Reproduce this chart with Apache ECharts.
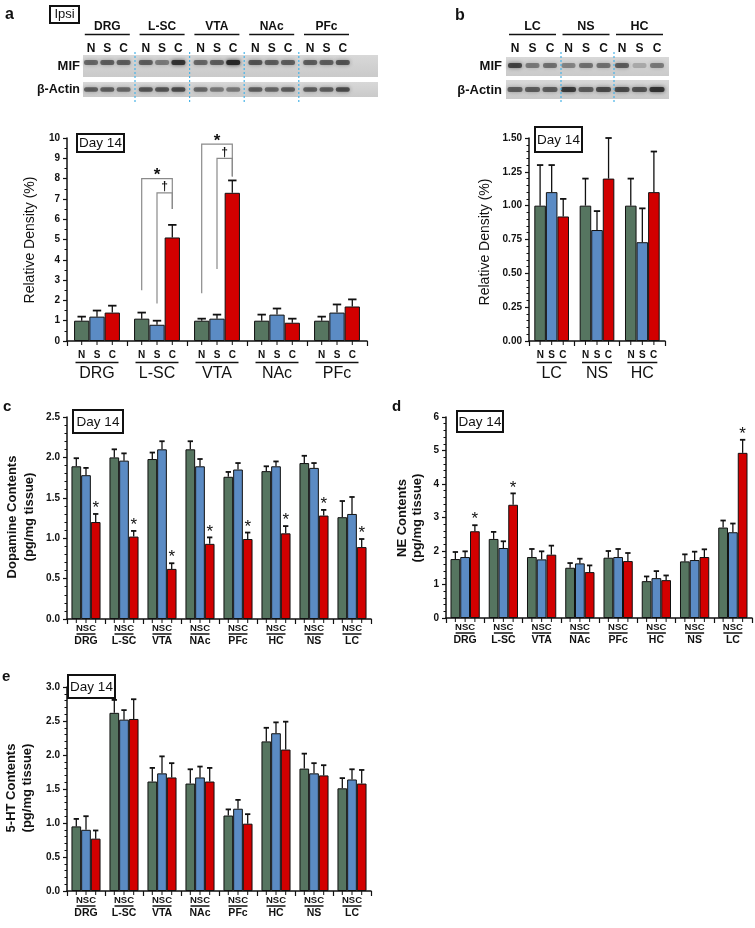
<!DOCTYPE html>
<html><head><meta charset="utf-8">
<script src="https://cdn.jsdelivr.net/npm/echarts@6.0.0/dist/echarts.min.js"></script>
<style>html,body{margin:0;padding:0;background:#fff}#c{width:755px;height:928px}</style>
</head><body><div id="c"></div><script>
// ---------- data ----------
const conds = ['N', 'S', 'C'];
const groupsA = ['DRG', 'L-SC', 'VTA', 'NAc', 'PFc'];
const groupsB = ['LC', 'NS', 'HC'];
const groupsCDE = ['DRG', 'L-SC', 'VTA', 'NAc', 'PFc', 'HC', 'NS', 'LC'];

const aN = [1.0, 1.1, 1.0, 1.0, 1.0];
const aS = [1.2, 0.8, 1.1, 1.3, 1.4];
const aC = [1.4, 5.1, 7.3, 0.9, 1.7];
const aNerr = [1.2, 1.4, 1.1, 1.3, 1.2];
const aSerr = [1.5, 1.0, 1.3, 1.6, 1.8];
const aCerr = [1.74, 5.72, 7.91, 1.1, 2.05];
// [group, fromBar, toBar, lowValue, topValue, endValue]
const bracketsA = [[1, 0, 2, 2.5, 8.0, 6.5], [1, 1, 2, 1.85, 7.3, 6.5], [2, 0, 2, 2.35, 9.7, 8.1], [2, 1, 2, 3.55, 9.0, 8.1]];
const bracketMarksA = ['*', '\u2020', '*', '\u2020'];

const bN = [1.0, 1.0, 1.0];
const bS = [1.1, 0.82, 0.73];
const bC = [0.92, 1.2, 1.1];
const bNerr = [1.3, 1.2, 1.2];
const bSerr = [1.3, 0.96, 0.98];
const bCerr = [1.05, 1.5, 1.4];

const cN = [1.89, 2.00, 1.98, 2.10, 1.76, 1.83, 1.93, 1.26];
const cS = [1.78, 1.96, 2.10, 1.89, 1.85, 1.89, 1.87, 1.30];
const cC = [1.20, 1.02, 0.62, 0.93, 0.99, 1.06, 1.28, 0.89];
const cNerr = [1.99, 2.10, 2.06, 2.20, 1.82, 1.89, 2.02, 1.46];
const cSerr = [1.87, 2.05, 2.20, 1.98, 1.93, 1.95, 1.93, 1.51];
const cCerr = [1.30, 1.09, 0.69, 1.01, 1.07, 1.15, 1.35, 0.99];
const sigC = [0, 1, 2, 3, 4, 5, 6, 7];

const dN = [1.76, 2.36, 1.82, 1.50, 1.80, 1.10, 1.69, 2.70];
const dS = [1.82, 2.09, 1.75, 1.63, 1.82, 1.19, 1.73, 2.56];
const dC = [2.59, 3.38, 1.89, 1.37, 1.70, 1.13, 1.82, 4.93];
const dNerr = [1.97, 2.57, 2.06, 1.64, 2.00, 1.24, 1.90, 2.91];
const dSerr = [1.99, 2.29, 1.99, 1.77, 2.06, 1.40, 1.98, 2.82];
const dCerr = [2.77, 3.72, 2.16, 1.57, 1.94, 1.27, 2.05, 5.32];
const sigD = [0, 1, 7];

const eN = [0.95, 2.62, 1.61, 1.58, 1.11, 2.20, 1.80, 1.51];
const eS = [0.90, 2.52, 1.73, 1.67, 1.21, 2.32, 1.73, 1.64];
const eC = [0.77, 2.53, 1.67, 1.61, 0.99, 2.08, 1.70, 1.58];
const eNerr = [1.06, 2.81, 1.81, 1.79, 1.20, 2.40, 2.02, 1.66];
const eSerr = [1.10, 2.66, 1.98, 1.83, 1.34, 2.48, 1.88, 1.79];
const eCerr = [0.89, 2.82, 1.88, 1.81, 1.13, 2.49, 1.85, 1.78];

// western blot band intensities (decorative)
const mifA = [0.55, 0.6, 0.6, 0.6, 0.45, 0.85, 0.55, 0.6, 0.95, 0.65, 0.6, 0.6, 0.6, 0.6, 0.65];
const actinA = [0.6, 0.6, 0.55, 0.65, 0.65, 0.7, 0.55, 0.45, 0.45, 0.6, 0.55, 0.6, 0.6, 0.6, 0.7];
const mifB = [0.75, 0.45, 0.5, 0.4, 0.5, 0.5, 0.6, 0.22, 0.45];
const actinB = [0.6, 0.6, 0.6, 0.8, 0.6, 0.7, 0.7, 0.65, 0.85];

// ---------- style ----------
const FONT = '"Liberation Sans", Arial, sans-serif';
const NARROW = '"Liberation Sans Narrow", "Arial Narrow", "Liberation Sans", Arial, sans-serif';
const COLORS = ['#567560', '#5b8bc4', '#d20000'];
const BAR = 0.255;
const INK = '#111';

const panels = [
  { grid: { left: 67, top: 138, width: 300, height: 203 }, groups: groupsA, means: [aN, aS, aC], errs: [aNerr, aSerr, aCerr],
    y: { min: 0, max: 10, interval: 1, minor: 2, dec: 0 }, big: true, boxW: 15.3, ulW: 43, nscSize: 10, grpSize: 16 },
  { grid: { left: 529, top: 138, width: 136, height: 203 }, groups: groupsB, means: [bN, bS, bC], errs: [bNerr, bSerr, bCerr],
    y: { min: 0, max: 1.5, interval: 0.25, minor: 5, dec: 2 }, big: true, boxW: 11.3, ulW: 30, nscSize: 10, grpSize: 16 },
  { grid: { left: 67, top: 417, width: 304, height: 202 }, groups: groupsCDE, means: [cN, cS, cC], errs: [cNerr, cSerr, cCerr],
    y: { min: 0, max: 2.5, interval: 0.5, minor: 5, dec: 1 }, big: false, boxW: 6.6, ulW: 19, nscSize: 9.5, grpSize: 10.5, sig: sigC, starOff: 9.5 },
  { grid: { left: 446, top: 417, width: 306, height: 201 }, groups: groupsCDE, means: [dN, dS, dC], errs: [dNerr, dSerr, dCerr],
    y: { min: 0, max: 6, interval: 1, minor: 5, dec: 0 }, big: false, boxW: 6.6, ulW: 19, nscSize: 9.5, grpSize: 10.5, sig: sigD, starOff: 9.5 },
  { grid: { left: 67, top: 687, width: 304, height: 204 }, groups: groupsCDE, means: [eN, eS, eC], errs: [eNerr, eSerr, eCerr],
    y: { min: 0, max: 3, interval: 0.5, minor: 5, dec: 1 }, big: false, boxW: 6.6, ulW: 19, nscSize: 9.5, grpSize: 10.5 }
];

const grids = [], xAxes = [], yAxes = [], series = [];
panels.forEach((p, gi) => {
  grids.push(Object.assign({ containLabel: false }, p.grid));
  xAxes.push({
    type: 'category', gridIndex: gi, data: p.groups,
    axisLine: { lineStyle: { color: INK, width: 1.5 } },
    axisTick: { show: true, length: 5, lineStyle: { color: INK, width: 1.2 } },
    axisLabel: {
      interval: 0, margin: p.big ? 8 : 4, color: INK,
      formatter: v => '{l|N}{l|S}{l|C}\n{u|}\n{g|' + v + '}',
      rich: {
        l: { width: p.boxW, align: 'center', fontSize: p.nscSize, fontWeight: 'bold', fontFamily: p.big ? FONT : NARROW, lineHeight: p.big ? 12 : 10, color: INK },
        u: { width: p.ulW, height: 1.5, backgroundColor: INK, lineHeight: p.big ? 3 : 2 },
        g: { fontSize: p.grpSize, fontWeight: p.big ? 'normal' : 'bold', fontFamily: NARROW, lineHeight: p.big ? 20 : 13, color: INK }
      }
    },
    splitLine: { show: false }
  });
  yAxes.push({
    type: 'value', gridIndex: gi, min: p.y.min, max: p.y.max, interval: p.y.interval,
    axisLine: { show: true, lineStyle: { color: INK, width: 1.5 } },
    axisTick: { show: true, length: 4, lineStyle: { color: INK, width: 1.2 } },
    minorTick: { show: true, splitNumber: p.y.minor, length: 2.5, lineStyle: { color: INK, width: 1 } },
    axisLabel: { margin: 7, fontSize: 10, fontWeight: 'bold', fontFamily: FONT, color: INK, formatter: v => v.toFixed(p.y.dec) },
    splitLine: { show: false }
  });
  p.means.forEach((m, k) => {
    series.push({
      type: 'bar', xAxisIndex: gi, yAxisIndex: gi, name: conds[k], data: m,
      barWidth: (BAR * 100) + '%', barGap: '0%',
      itemStyle: { color: COLORS[k], borderColor: INK, borderWidth: 1 },
      silent: true, animation: false
    });
  });
  p.means.forEach((m, k) => {
    const errs = p.errs[k];
    series.push({
      type: 'custom', xAxisIndex: gi, yAxisIndex: gi, clip: false, z: 5, silent: true, animation: false,
      data: m.map((v, i) => [i, v, errs[i]]),
      renderItem: (params, api) => {
        const i = api.value(0);
        const band = api.size([1, 0])[0];
        const bw = band * BAR;
        const c0 = api.coord([i, api.value(1)]);
        const c1 = api.coord([i, api.value(2)]);
        const base = api.coord([i, 0]);
        const x = c0[0] + (k - 1) * bw;
        const cw = bw * 0.55;
        return { type: 'group', children: [
          { type: 'line', shape: { x1: x, y1: c0[1], x2: x, y2: c1[1] }, style: { stroke: INK, lineWidth: 1.3 } },
          { type: 'line', shape: { x1: x - cw / 2, y1: c1[1], x2: x + cw / 2, y2: c1[1] }, style: { stroke: INK, lineWidth: 1.8 } },
          { type: 'line', shape: { x1: x, y1: base[1], x2: x, y2: base[1] + 4 }, style: { stroke: INK, lineWidth: 1 } }
        ] };
      }
    });
  });
  if (p.sig) {
    const errC = p.errs[2];
    series.push({
      type: 'custom', xAxisIndex: gi, yAxisIndex: gi, clip: false, z: 6, silent: true, animation: false,
      data: p.sig.map(g => [g, errC[g]]),
      renderItem: (params, api) => {
        const i = api.value(0);
        const band = api.size([1, 0])[0];
        const c = api.coord([i, api.value(1)]);
        return { type: 'text', x: c[0] + band * BAR, y: c[1] - p.starOff + 4,
          style: { text: '*', fontSize: 17, fontFamily: FONT, fill: INK, align: 'center', verticalAlign: 'middle' } };
      }
    });
  }
});

// significance brackets for panel a
series.push({
  type: 'custom', xAxisIndex: 0, yAxisIndex: 0, clip: false, z: 6, silent: true, animation: false,
  data: bracketsA,
  renderItem: (params, api) => {
    const g = api.value(0), f = api.value(1), t = api.value(2);
    const band = api.size([1, 0])[0];
    const bw = band * BAR;
    const low = api.coord([g, api.value(3)]);
    const top = api.coord([g, api.value(4)]);
    const end = api.coord([g, api.value(5)]);
    const xf = low[0] + (f - 1) * bw, xt = low[0] + (t - 1) * bw;
    const mark = bracketMarksA[params.dataIndex];
    const isStar = mark === '*';
    return { type: 'group', children: [
      { type: 'polyline', shape: { points: [[xf, low[1]], [xf, top[1]], [xt, top[1]], [xt, end[1]]] },
        style: { stroke: '#8a8a8a', lineWidth: 1.2, fill: null } },
      { type: 'text', x: (xf + xt) / 2, y: top[1] - (isStar ? 3 : 6),
        style: { text: mark, fontSize: isStar ? 17 : 12, fontWeight: 'bold', fontFamily: FONT, fill: INK, align: 'center', verticalAlign: 'middle' } }
    ] };
  }
});

// ---------- decorative graphics ----------
const G = [];
function txt(x, y, text, o) {
  o = o || {};
  G.push({ type: 'text', x: x, y: y, rotation: o.rot || 0, silent: true,
    style: { text: text, fill: INK, fontSize: o.size || 12, fontWeight: o.weight || 'normal', fontFamily: o.family || FONT,
      align: o.align || 'center', verticalAlign: o.va || 'middle', lineHeight: o.lh } });
}
function box(x, y, w, h, lw) {
  G.push({ type: 'rect', silent: true, shape: { x: x, y: y, width: w, height: h }, style: { fill: '#fff', stroke: INK, lineWidth: lw || 2 } });
}
function line(x1, y1, x2, y2, w, color, dash) {
  G.push({ type: 'line', silent: true, shape: { x1: x1, y1: y1, x2: x2, y2: y2 }, style: { stroke: color || INK, lineWidth: w || 1.5, lineDash: dash } });
}
function strip(x0, x1, y0, y1, lanes, ints, bandY, bandH, laneW) {
  G.push({ type: 'rect', silent: true, shape: { x: x0, y: y0, width: x1 - x0, height: y1 - y0 },
    style: { fill: { type: 'linear', x: 0, y: 0, x2: 0, y2: 1, colorStops: [{ offset: 0, color: '#d8d8d8' }, { offset: 1, color: '#cacaca' }] } } });
  lanes.forEach((lx, i) => {
    const a = ints[i];
    G.push({ type: 'rect', silent: true, shape: { x: lx - laneW / 2, y: bandY - bandH / 2, width: laneW, height: bandH, r: 2 },
      style: { fill: 'rgba(35,35,35,' + a + ')', shadowBlur: 4, shadowColor: 'rgba(35,35,35,' + a + ')' } });
  });
}

// blot a
const lanesA = [];
groupsA.forEach((g, gi) => conds.forEach((c, k) => lanesA.push(91 + gi * 54.8 + k * 16.3)));
strip(83, 378, 55, 77, lanesA, mifA, 62.5, 5, 14);
strip(83, 378, 82, 97, lanesA, actinA, 89.5, 4.5, 14);
groupsA.forEach((g, gi) => {
  const cx = 91 + gi * 54.8 + 16.3;
  txt(cx, 27, g, { size: 12, weight: 'bold' });
  line(cx - 22.5, 34.5, cx + 22.5, 34.5, 1.6);
  conds.forEach((c, k) => txt(lanesA[gi * 3 + k], 48.5, c, { size: 12, weight: 'bold' }));
});
[0, 1, 2, 3].forEach(i => line(135 + i * 54.6, 52, 135 + i * 54.6, 103, 1.2, '#49b3e6', [2, 2]));
txt(80, 66, 'MIF', { size: 13, weight: 'bold', align: 'right' });
txt(80, 90, '\u03b2-Actin', { size: 12.5, weight: 'bold', align: 'right' });
box(50, 6, 29, 17, 2);
txt(64.5, 14.5, 'Ipsi', { size: 13 });
txt(5, 15, 'a', { size: 16, weight: 'bold', align: 'left' });

// blot b
const lanesB = [];
groupsB.forEach((g, gi) => conds.forEach((c, k) => lanesB.push(515 + gi * 53.5 + k * 17.5)));
strip(506, 669, 57, 76, lanesB, mifB, 65.5, 5, 14);
strip(506, 669, 80, 99, lanesB, actinB, 89.5, 5, 15);
groupsB.forEach((g, gi) => {
  const cx = 515 + gi * 53.5 + 17.5;
  txt(cx, 27, g, { size: 12.5, weight: 'bold' });
  line(cx - 23.5, 34.5, cx + 23.5, 34.5, 1.6);
  conds.forEach((c, k) => txt(lanesB[gi * 3 + k], 49, c, { size: 12, weight: 'bold' }));
});
[0, 1].forEach(i => line(561 + i * 53, 52, 561 + i * 53, 103, 1.2, '#49b3e6', [2, 2]));
txt(502, 66, 'MIF', { size: 13, weight: 'bold', align: 'right' });
txt(502, 90, '\u03b2-Actin', { size: 13, weight: 'bold', align: 'right' });
txt(455, 16, 'b', { size: 16, weight: 'bold', align: 'left' });

// panel letters
txt(3, 407, 'c', { size: 15, weight: 'bold', align: 'left' });
txt(392, 407, 'd', { size: 15, weight: 'bold', align: 'left' });
txt(2, 677, 'e', { size: 15, weight: 'bold', align: 'left' });

// Day 14 boxes
[[77, 134, 47, 18], [535, 127, 47, 25], [73, 410, 50, 23], [457, 411, 46, 21], [68, 675, 47, 23]].forEach(b => {
  box(b[0], b[1], b[2], b[3], 2);
  txt(b[0] + b[2] / 2, b[1] + b[3] / 2 + 0.5, 'Day 14', { size: 13.5 });
});

// axis titles
txt(30, 240, 'Relative Density (%)', { size: 14, rot: Math.PI / 2 });
txt(485, 242, 'Relative Density (%)', { size: 14, rot: Math.PI / 2 });
txt(21, 517, 'Dopamine Contents\n(pg/mg tissue)', { size: 13, weight: 'bold', rot: Math.PI / 2, lh: 17 });
txt(410, 518, 'NE Contents\n(pg/mg tissue)', { size: 13, weight: 'bold', rot: Math.PI / 2, lh: 15 });
txt(19, 788, '5-HT Contents\n(pg/mg tissue)', { size: 13, weight: 'bold', rot: Math.PI / 2, lh: 16 });

const chart = echarts.init(document.getElementById('c'), null, { renderer: 'canvas' });
chart.setOption({
  backgroundColor: '#fff',
  animation: false,
  textStyle: { fontFamily: FONT },
  grid: grids, xAxis: xAxes, yAxis: yAxes, series: series,
  graphic: { elements: G }
});
</script></body></html>
